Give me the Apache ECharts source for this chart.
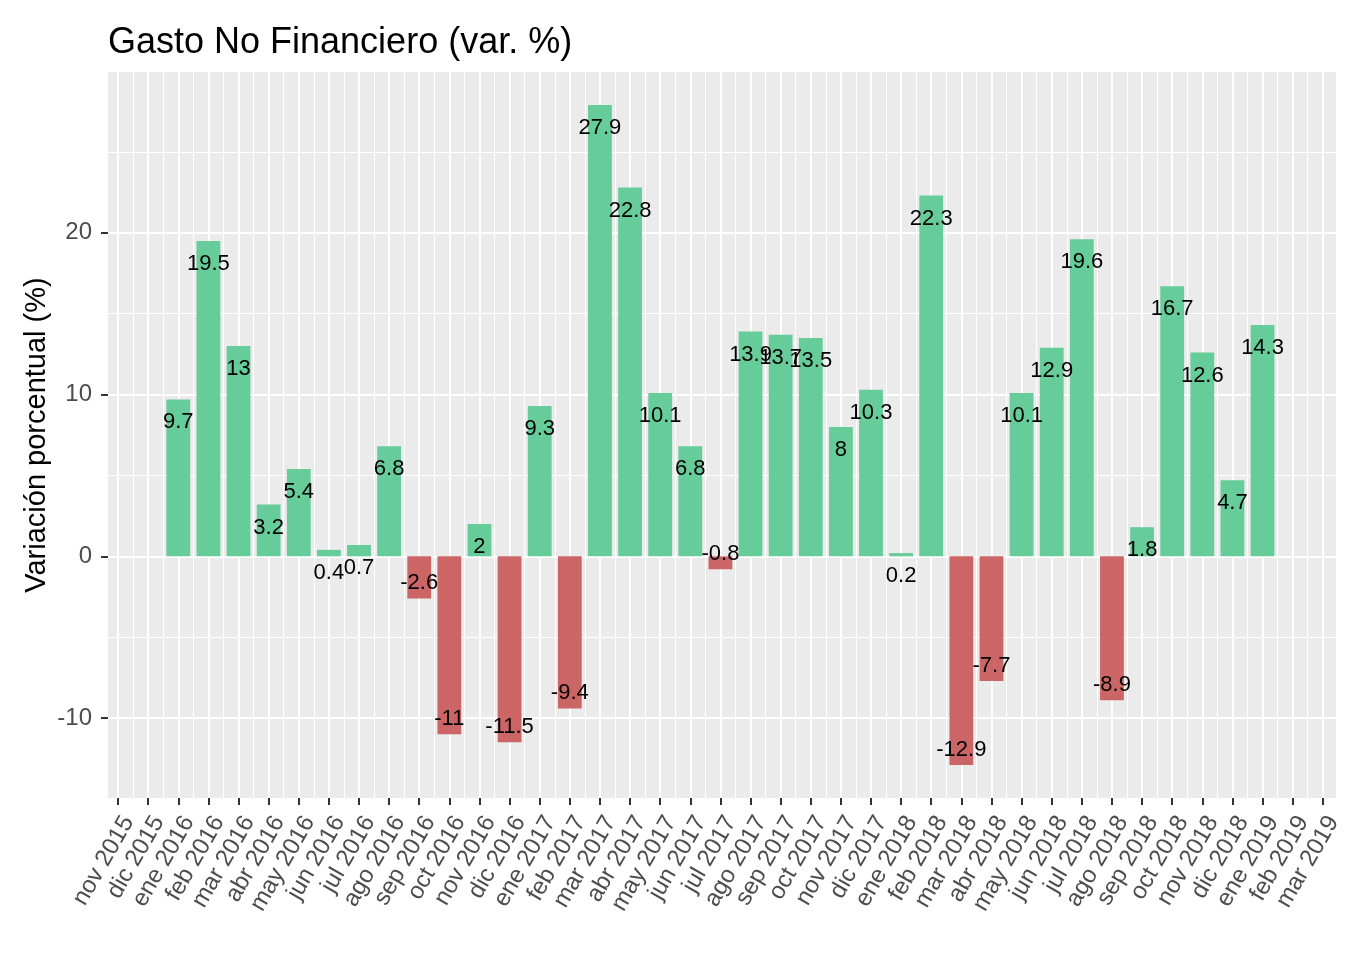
<!DOCTYPE html>
<html>
<head>
<meta charset="utf-8">
<script src="https://cdn.jsdelivr.net/npm/echarts@6/dist/echarts.min.js"></script>
<style>
html,body{margin:0;padding:0;background:#fff;}
#c{width:1345px;height:955px;}
</style>
</head>
<body>
<div id="c"></div>
<script>
const tickLabels = ['nov 2015','dic 2015','ene 2016','feb 2016','mar 2016','abr 2016','may 2016','jun 2016','jul 2016','ago 2016','sep 2016','oct 2016','nov 2016','dic 2016','ene 2017','feb 2017','mar 2017','abr 2017','may 2017','jun 2017','jul 2017','ago 2017','sep 2017','oct 2017','nov 2017','dic 2017','ene 2018','feb 2018','mar 2018','abr 2018','may 2018','jun 2018','jul 2018','ago 2018','sep 2018','oct 2018','nov 2018','dic 2018','ene 2019','feb 2019','mar 2019'];
const variation = [null,null,9.7,19.5,13,3.2,5.4,0.4,0.7,6.8,-2.6,-11,2,-11.5,9.3,-9.4,27.9,22.8,10.1,6.8,-0.8,13.9,13.7,13.5,8,10.3,0.2,22.3,-12.9,-7.7,10.1,12.9,19.6,-8.9,1.8,16.7,12.6,4.7,14.3,null,null];
const yTickValues = [-10, 0, 10, 20];
const titleText = 'Gasto No Financiero (var. %)';
const yTitle = 'Variación porcentual (%)';
const yMin = -14.94, yMax = 29.94;

const FONT = '"Liberation Sans", Arial, sans-serif';
const GREEN = '#66CC99', RED = '#CC6666';
const halfTicks = tickLabels.flatMap(m => [m + 'a', m + 'b']);

const chart = echarts.init(document.getElementById('c'), null, {renderer: 'canvas'});
chart.setOption({
  animation: false,
  backgroundColor: '#ffffff',
  title: {
    text: titleText, left: 108, top: 25, padding: 0,
    textStyle: {fontFamily: FONT, fontSize: 36, fontWeight: 'normal', color: '#000'}
  },
  grid: [
    {left: 103, width: 1240, top: 72, bottom: 157, show: false, containLabel: false},
    {left: 108, right: 9, top: 72, bottom: 157, show: true, backgroundColor: '#EBEBEB', borderWidth: 0, z: -1}
  ],
  xAxis: [
    {
      type: 'category', gridIndex: 0, data: tickLabels, boundaryGap: true, position: 'bottom',
      axisLine: {show: false, onZero: false},
      axisTick: {show: true, alignWithLabel: true, length: 7, lineStyle: {color: '#333', width: 2}},
      axisLabel: {interval: 0, rotate: 60, margin: 14, align: 'right', verticalAlign: 'top',
                  fontFamily: FONT, fontSize: 24, color: '#4D4D4D'},
      splitLine: {show: true, interval: 0, lineStyle: {color: '#fff', width: 1}}
    },
    {
      type: 'category', gridIndex: 0, data: halfTicks, boundaryGap: true, position: 'bottom',
      axisLine: {show: false, onZero: false}, axisTick: {show: false}, axisLabel: {show: false},
      splitLine: {show: true, interval: (i) => i % 2 === 1, lineStyle: {color: '#fff', width: 2}}
    },
    {type: 'value', gridIndex: 1, show: false}
  ],
  yAxis: [
    {
      type: 'value', gridIndex: 0, min: yMin, max: yMax, offset: -5,
      name: yTitle, nameLocation: 'middle', nameGap: 57, nameMoveOverlap: false,
      nameTextStyle: {fontFamily: FONT, fontSize: 29, color: '#000'},
      axisLine: {show: false},
      axisTick: {show: true, length: 7, customValues: yTickValues, lineStyle: {color: '#333', width: 2}},
      axisLabel: {margin: 16, customValues: yTickValues, fontFamily: FONT, fontSize: 24, color: '#4D4D4D'},
      splitLine: {show: true, lineStyle: {color: '#fff', width: 2}},
      minorTick: {show: false, splitNumber: 2},
      minorSplitLine: {show: true, lineStyle: {color: '#fff', width: 1}}
    },
    {type: 'value', gridIndex: 1, show: false}
  ],
  series: [{
    type: 'bar', xAxisIndex: 0, yAxisIndex: 0,
    barWidth: '79%',
    data: variation.map(v => v == null ? '-' : {
      value: v,
      itemStyle: {color: v >= 0 ? GREEN : RED},
      label: {position: v >= 0 ? 'insideTop' : 'insideBottom', distance: v >= 0 ? 12 : 4}
    }),
    label: {show: true, fontFamily: FONT, fontSize: 22, color: '#000'}
  }]
});
</script>
</body>
</html>
